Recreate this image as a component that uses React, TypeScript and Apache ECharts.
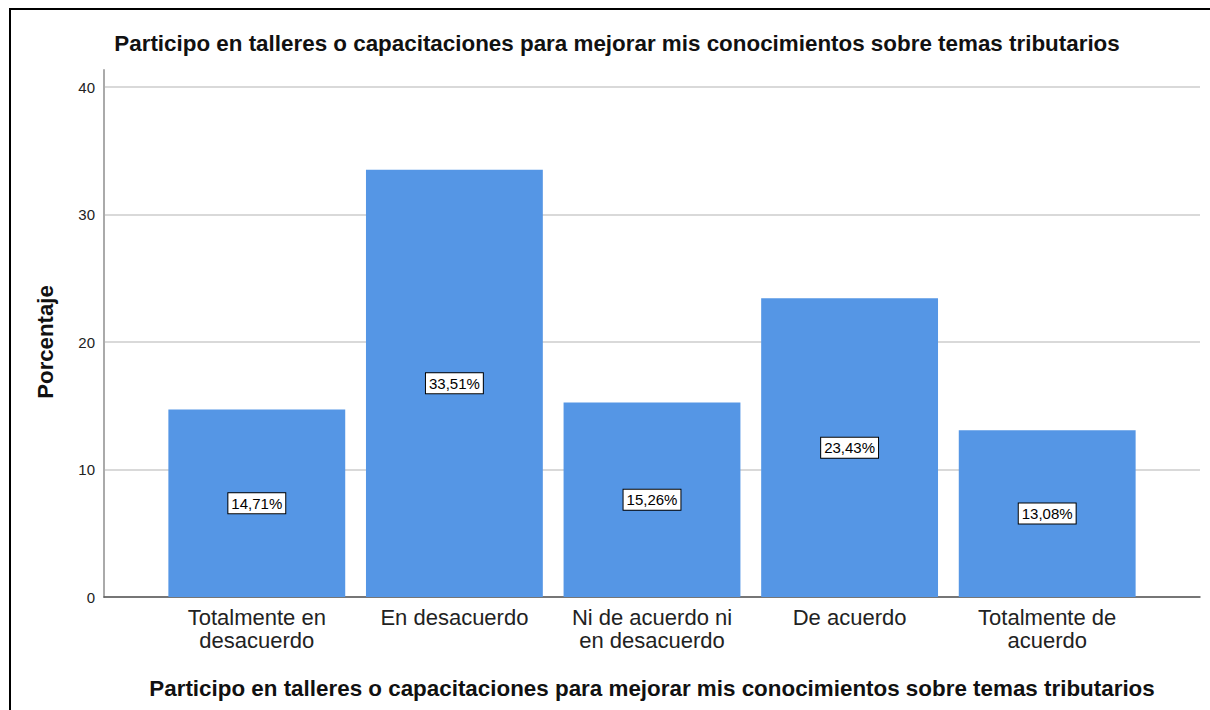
import React, { useEffect, useRef } from "react";
import * as echarts from "echarts";

const categories = [
  "Totalmente en\ndesacuerdo",
  "En desacuerdo",
  "Ni de acuerdo ni\nen desacuerdo",
  "De acuerdo",
  "Totalmente de\nacuerdo",
];
const values = [14.71, 33.51, 15.26, 23.43, 13.08];
const titleText = "Participo en talleres o capacitaciones para mejorar mis conocimientos sobre temas tributarios";
const yName = "Porcentaje";

const FONT = "'Liberation Sans', Arial, sans-serif";

export default function App() {
  const ref = useRef<HTMLDivElement>(null);
  useEffect(() => {
    if (!ref.current) return;
    const chart = echarts.init(ref.current, null, { renderer: "svg" });
    chart.setOption({
      animation: false,
      backgroundColor: "#ffffff",
      textStyle: { fontFamily: FONT },
      title: {
        text: titleText,
        left: 612,
        top: 27,
        textAlign: "center",
        textStyle: { fontFamily: FONT, fontSize: 22.4, fontWeight: "bold", color: "#111" },
      },
      graphic: [
        {
          type: "rect",
          shape: { x: 10, y: 9, width: 1220, height: 720 },
          style: { fill: "none", stroke: "#000", lineWidth: 2 },
          silent: true,
          z: 100,
        },
      ],
      grid: [
        { left: 104, right: 10, top: 70, bottom: 113, outerBoundsMode: "none", containLabel: false },
        { left: 104, right: 10, top: 87, bottom: 113, outerBoundsMode: "none", containLabel: false },
        { left: 158, right: 64, top: 87, bottom: 113, outerBoundsMode: "none", containLabel: false },
      ],
      xAxis: [
        {
          gridIndex: 0,
          type: "value",
          min: 0,
          max: 1,
          axisLine: { show: true, lineStyle: { color: "#555", width: 1.5 } },
          axisTick: { show: false },
          axisLabel: { show: false },
          splitLine: { show: false },
        },
        {
          gridIndex: 1,
          type: "value",
          min: 0,
          max: 1,
          show: false,
        },
        {
          gridIndex: 2,
          type: "category",
          data: categories,
          axisLine: { show: false },
          axisTick: { show: false },
          axisLabel: {
            interval: 0,
            margin: 9,
            fontFamily: FONT,
            fontSize: 22,
            color: "#222",
            lineHeight: 23,
            verticalAlign: "top",
          },
          name: titleText,
          nameLocation: "middle",
          nameGap: 80,
          nameTextStyle: { fontFamily: FONT, fontSize: 22.4, fontWeight: "bold", color: "#111" },
        },
      ],
      yAxis: [
        {
          gridIndex: 0,
          type: "value",
          min: 0,
          max: 41.3,
          axisLine: { show: true, lineStyle: { color: "#aaa", width: 2 } },
          axisTick: { show: false },
          axisLabel: { show: false },
          splitLine: { show: false },
        },
        {
          gridIndex: 1,
          type: "value",
          min: 0,
          max: 40,
          interval: 10,
          axisLine: { show: false },
          axisTick: { show: false },
          axisLabel: { fontFamily: FONT, fontSize: 15, color: "#222", margin: 9 },
          splitLine: { show: true, lineStyle: { color: "#cccccc", width: 1.5 } },
          name: yName,
          nameLocation: "middle",
          nameGap: 48,
          nameTextStyle: { fontFamily: FONT, fontSize: 22.2, fontWeight: "bold", color: "#111" },
        },
        {
          gridIndex: 2,
          type: "value",
          min: 0,
          max: 40,
          show: false,
        },
      ],
      series: [
        {
          type: "bar",
          xAxisIndex: 2,
          yAxisIndex: 2,
          data: values,
          barCategoryGap: "10.5%",
          itemStyle: { color: "#5596e5" },
          label: {
            show: true,
            position: "inside",
            formatter: (p: any) => p.value.toFixed(2).replace(".", ",") + "%",
            fontFamily: FONT,
            fontSize: 15,
            color: "#000",
            backgroundColor: "#fff",
            borderColor: "#000",
            borderWidth: 1,
            padding: [3, 3, 2, 3],
          },
        },
      ],
    });
    return () => chart.dispose();
  }, []);
  return (
    <div
      ref={ref}
      style={{ position: "fixed", left: 0, top: 0, width: 1210, height: 710 }}
    />
  );
}
